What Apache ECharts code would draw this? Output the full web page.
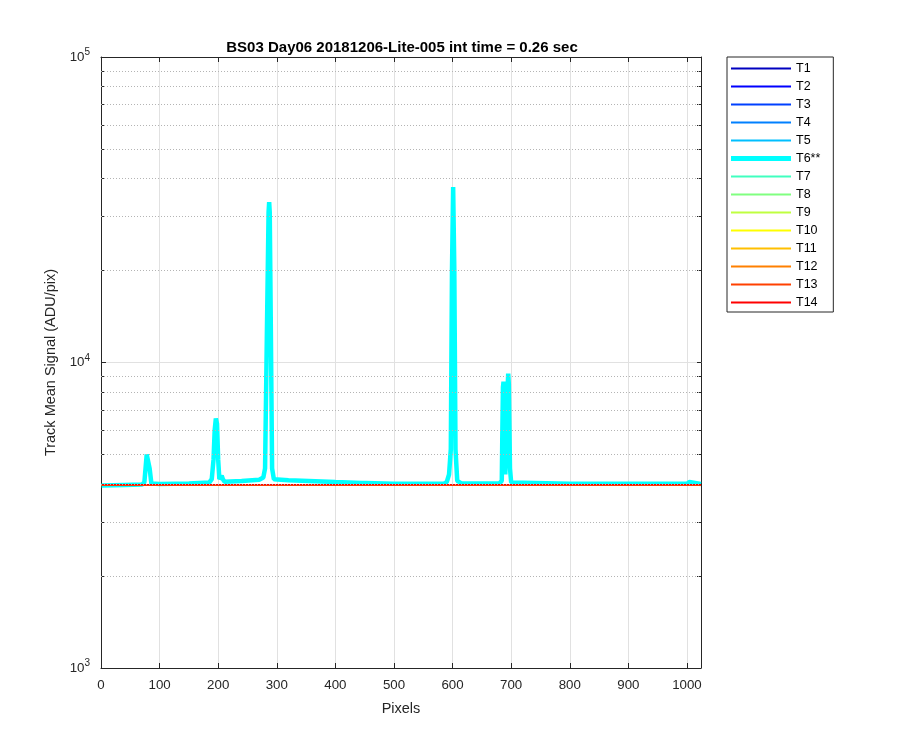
<!DOCTYPE html>
<html>
<head>
<meta charset="utf-8">
<script src="https://cdn.jsdelivr.net/npm/echarts@6/dist/echarts.min.js"></script>
<style>
html,body{margin:0;padding:0;background:#fff;}
#chart{width:900px;height:750px;}
</style>
</head>
<body>
<div id="chart"></div>
<script>
// ---- data ----
const trackNames = ['T1','T2','T3','T4','T5','T6**','T7','T8','T9','T10','T11','T12','T13','T14'];
const trackColors = ['#0000BF','#0000FF','#0040FF','#0080FF','#00BFFF','#00FFFF','#40FFBF','#80FF80','#BFFF40','#FFFF00','#FFBF00','#FF8000','#FF4000','#FF0000'];
// flat tracks: signal at first and last pixel
const flatPixels = [1, 1024];
const flatLevels = [3980, 3980, 3980, 3980, 3980, null, 3980, 3980, 3980, 3980, 3980, 3980, 3980, 3978];
// highlighted track T6**
const pixelsT6 = [1, 40, 70, 74, 76, 78, 79, 81, 83, 86, 100, 150, 185, 189, 192, 194, 196, 198, 200, 202, 204, 206, 208, 211, 240, 270, 277, 280, 283, 286, 287, 288, 290, 292, 295, 320, 400, 445, 448, 451, 500, 585, 590, 594, 597, 599, 601, 603, 605, 608, 615, 680, 684, 685, 686, 687, 688, 690, 691, 693, 695, 696, 698, 700, 800, 1000, 1004, 1007, 1024];
const signalT6 = [3960, 3975, 3985, 4050, 4500, 5000, 5060, 5000, 4500, 4020, 4000, 4020, 4050, 4150, 4800, 6000, 6560, 6300, 4800, 4150, 4200, 4260, 4150, 4070, 4090, 4130, 4200, 4500, 12000, 31000, 33500, 31000, 12000, 4500, 4150, 4120, 4060, 4030, 4070, 4030, 4010, 4010, 4060, 4300, 5200, 20000, 37500, 20000, 5200, 4100, 4020, 4015, 4100, 6000, 8300, 8650, 8400, 4300, 4300, 7500, 9200, 8500, 4500, 4050, 4010, 4010, 4060, 4010, 4005];
const yMajor = [1000, 10000, 100000];
const yMinor = [2000,3000,4000,5000,6000,7000,8000,9000,20000,30000,40000,50000,60000,70000,80000,90000];

const FONT = '"Liberation Sans", Arial, Helvetica, sans-serif';
const AX = '#262626';

const chart = echarts.init(document.getElementById('chart'), null, {renderer: 'canvas'});

const lineWidths = trackNames.map((n, i) => flatLevels[i] === null ? 4.5 : 1.5);

// legend swatch: a horizontal band inside a 60x10 box
function bandIcon(h) {
  const a = 5 - h / 2, b = 5 + h / 2;
  return 'path://M0,0L0,0M60,10L60,10M0,' + a + 'L60,' + a + 'L60,' + b + 'L0,' + b + 'Z';
}

const series = trackNames.map((name, i) => {
  let data;
  if (flatLevels[i] === null) {
    data = pixelsT6.map((p, k) => [p, signalT6[k]]);
  } else {
    data = flatPixels.map(p => [p, flatLevels[i]]);
  }
  const s = {
    name: name,
    type: 'line',
    xAxisIndex: 0,
    yAxisIndex: 0,
    data: data,
    symbol: 'none',
    showSymbol: false,
    smooth: false,
    lineStyle: {color: trackColors[i], width: lineWidths[i]},
    itemStyle: {color: trackColors[i]},
    emphasis: {disabled: true},
    animation: false
  };
  if (i === 0) {
    s.markLine = {
      silent: true,
      symbol: 'none',
      label: {show: false},
      animation: false,
      lineStyle: {color: '#b4b4b4', width: 1, type: [1, 2]},
      data: yMinor.map(v => ({yAxis: v}))
    };
  }
  return s;
});

const option = {
  animation: false,
  backgroundColor: '#ffffff',
  title: {
    text: 'BS03 Day06 20181206-Lite-005 int time = 0.26 sec',
    left: 397,
    top: 35,
    textAlign: 'center',
    textStyle: {fontFamily: FONT, fontSize: 15, fontWeight: 'bold', color: '#000'}
  },
  legend: {
    orient: 'vertical',
    left: 727,
    top: 57,
    itemWidth: 60,
    itemHeight: 10,
    itemGap: 5,
    padding: [5, 13, 3, 4],
    borderColor: '#262626',
    borderWidth: 1,
    backgroundColor: '#fff',
    selectedMode: false,
    textStyle: {fontFamily: FONT, fontSize: 12.5, color: '#000'},
    data: trackNames.map((n, i) => ({
      name: n,
      icon: bandIcon(lineWidths[i] === 4.5 ? 5 : 1.8),
      itemStyle: {color: trackColors[i], borderWidth: 0}
    }))
  },
  grid: {left: 101, right: 199, top: 57, bottom: 82, containLabel: false},
  xAxis: [
    {
      type: 'value', position: 'bottom', min: 0, max: 1024, interval: 100,
      name: 'Pixels', nameLocation: 'middle', nameGap: 33,
      nameTextStyle: {fontFamily: FONT, fontSize: 14.5, color: AX},
      axisLine: {show: true, onZero: false, lineStyle: {color: AX, width: 1}},
      axisTick: {show: true, inside: true, length: 5, lineStyle: {color: AX}},
      axisLabel: {show: true, margin: 11, showMaxLabel: false, fontFamily: FONT, fontSize: 13.3, color: AX,
        formatter: v => String(v)},
      splitLine: {show: true, lineStyle: {color: '#e1e1e1', width: 1}}
    },
    {
      type: 'value', position: 'top', min: 0, max: 1024, interval: 100,
      axisLine: {show: true, onZero: false, lineStyle: {color: AX, width: 1}},
      axisTick: {show: true, inside: true, length: 5, lineStyle: {color: AX}},
      axisLabel: {show: false},
      splitLine: {show: false}
    }
  ],
  yAxis: [
    {
      type: 'log', logBase: 10, position: 'left', min: 1000, max: 100000,
      name: 'Track Mean Signal (ADU/pix)', nameLocation: 'middle', nameGap: 30,
      nameTextStyle: {fontFamily: FONT, fontSize: 14.5, color: AX},
      axisLine: {show: true, onZero: false, lineStyle: {color: AX, width: 1}},
      axisTick: {show: true, inside: true, length: 5, lineStyle: {color: AX}},
      axisLabel: {
        show: true, margin: 11, fontFamily: FONT, fontSize: 13.3, color: AX,
        formatter: v => '10{sup|' + Math.round(Math.log10(v)) + '}',
        rich: {sup: {fontFamily: FONT, fontSize: 10, color: AX, verticalAlign: 'bottom', padding: [0, 0, 9, 0]}}
      },
      splitLine: {show: true, lineStyle: {color: '#e1e1e1', width: 1}}
    },
    {
      type: 'log', logBase: 10, position: 'left', min: 1000, max: 100000,
      axisLine: {show: false},
      axisTick: {show: true, inside: true, length: 3, lineStyle: {color: AX}, customValues: yMinor},
      axisLabel: {show: false},
      splitLine: {show: false}
    },
    {
      type: 'log', logBase: 10, position: 'right', min: 1000, max: 100000,
      axisLine: {show: true, onZero: false, lineStyle: {color: AX, width: 1}},
      axisTick: {show: true, inside: true, length: 4, lineStyle: {color: AX}, customValues: yMajor.concat(yMinor)},
      axisLabel: {show: false},
      splitLine: {show: false}
    }
  ],
  series: series
};
chart.setOption(option);
</script>
</body>
</html>
